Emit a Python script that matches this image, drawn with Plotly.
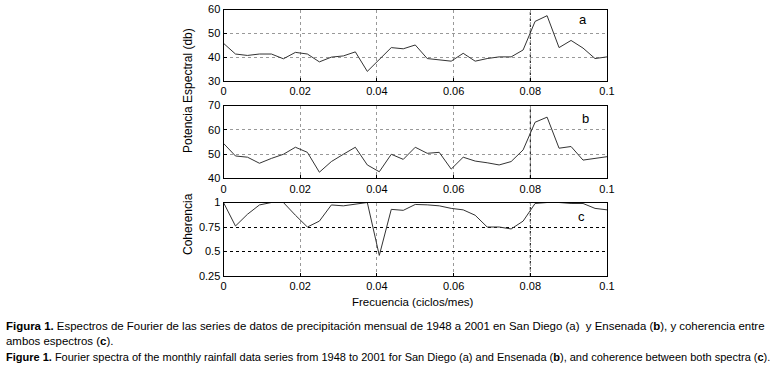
import plotly.graph_objects as go

# ---- data ----
freq_step = 0.003125
n_points = 33
frequency = [round(k * freq_step, 6) for k in range(n_points)]

power_san_diego = [45.8, 41.3, 40.7, 41.3, 41.3, 39.3, 42.0, 41.3, 38.0, 40.0, 40.5,
                   42.2, 34.0, 39.0, 44.0, 43.5, 45.1, 39.4, 39.0, 38.3, 41.6, 38.3,
                   39.4, 40.1, 40.1, 43.0, 55.0, 57.4, 44.0, 47.0, 43.8, 39.4, 40.1]

power_ensenada = [54.4, 49.2, 48.7, 46.2, 48.2, 49.9, 52.8, 50.7, 42.5, 46.9, 49.9,
                  52.8, 45.5, 42.7, 49.9, 47.8, 52.8, 50.3, 50.7, 43.8, 48.7, 47.1,
                  46.4, 45.5, 46.9, 51.7, 63.1, 65.2, 52.4, 53.1, 47.5, 48.2, 48.9]

coherence = [1.0, 0.76, 0.88, 0.975, 1.0, 1.0, 0.87, 0.75, 0.81, 0.975, 0.966,
             0.986, 1.0, 0.46, 0.93, 0.92, 0.98, 0.976, 0.966, 0.94, 0.925, 0.87,
             0.75, 0.75, 0.73, 0.81, 0.99, 1.0, 1.0, 0.99, 0.99, 0.94, 0.925]

x_ticks = [0, 0.02, 0.04, 0.06, 0.08, 0.1]
x_tick_labels = ["0", "0.02", "0.04", "0.06", "0.08", "0.1"]
ya_ticks = [30, 40, 50, 60]
ya_tick_labels = ["30", "40", "50", "60"]
yb_ticks = [40, 50, 60, 70]
yb_tick_labels = ["40", "50", "60", "70"]
yc_ticks = [0.25, 0.5, 0.75, 1]
yc_tick_labels = ["0.25", "0.5", "0.75", "1"]

W, H = 784, 378
def px(x): return x / W
def py(y): return 1 - y / H

X0, X1 = 223.5, 607.0
panels = {
    "a": (9.5, 81.0),
    "b": (105.5, 178.3),
    "c": (202.5, 276.0),
}

FONT = "Liberation Sans, Arial, sans-serif"
DASH = "3px,3px"

fig = go.Figure()
series = [(power_san_diego, "x", "y"), (power_ensenada, "x2", "y2"), (coherence, "x3", "y3")]
for vals, xa, ya in series:
    fig.add_trace(go.Scatter(x=frequency, y=vals, xaxis=xa, yaxis=ya, mode="lines",
                             line=dict(color="#333333", width=1), showlegend=False,
                             hoverinfo="skip"))

common_x = dict(range=[0, 0.1], tickvals=x_ticks, ticktext=x_tick_labels,
                showgrid=True, gridcolor="#999999", griddash=DASH, gridwidth=1,
                showline=True, linecolor="black", linewidth=1, mirror=True,
                ticks="inside", ticklen=3, tickcolor="black", automargin=False,
                ticklabeloverflow="allow",
                tickfont=dict(family=FONT, size=11, color="black"), zeroline=False,
                domain=[px(X0), px(X1)])
common_y = dict(showgrid=True, gridcolor="#999999", griddash=DASH, gridwidth=1,
                showline=True, linecolor="black", linewidth=1, mirror=True,
                ticks="inside", ticklen=3, tickcolor="black", automargin=False,
                ticklabeloverflow="allow",
                tickfont=dict(family=FONT, size=11, color="black"), zeroline=False)

fig.update_layout(
    width=W, height=H, margin=dict(l=0, r=0, t=0, b=0, pad=0, autoexpand=False),
    paper_bgcolor="white", plot_bgcolor="white",
    xaxis=dict(common_x, anchor="y"),
    xaxis2=dict(common_x, anchor="y2"),
    xaxis3=dict(common_x, anchor="y3"),
    yaxis=dict(common_y, range=[29.97, 60.0], tickvals=ya_ticks, ticktext=ya_tick_labels,
               domain=[py(panels["a"][1]), py(panels["a"][0])], anchor="x"),
    yaxis2=dict(common_y, range=[40, 70], tickvals=yb_ticks, ticktext=yb_tick_labels,
                domain=[py(panels["b"][1]), py(panels["b"][0])], anchor="x2"),
    yaxis3=dict(common_y, range=[0.25, 1], tickvals=yc_ticks, ticktext=yc_tick_labels,
                gridcolor="black",
                domain=[py(panels["c"][1]), py(panels["c"][0])], anchor="x3"),
)

# black dashed vertical line at 0.08 in each panel
for xa, ya, rng in [("x", "y", (29.97, 60)), ("x2", "y2", (40, 70)), ("x3", "y3", (0.25, 1))]:
    fig.add_shape(type="line", xref=xa, yref=ya, x0=0.08, x1=0.08, y0=rng[0], y1=rng[1],
                  line=dict(color="black", width=1, dash=DASH), layer="below")

# panel letters
letters = {"a": ("x", "y", 0.0937, 55.7), "b": ("x2", "y2", 0.0945, 64.5),
           "c": ("x3", "y3", 0.0934, 0.857)}
for letter, (xa, ya, xv, yv) in letters.items():
    fig.add_annotation(x=xv, y=yv, xref=xa, yref=ya, text=letter, showarrow=False,
                       xanchor="center", yanchor="middle",
                       font=dict(family=FONT, size=13, color="black"))

# axis titles
fig.add_annotation(x=px(188), y=py(91), xref="paper", yref="paper", text="Potencia Espectral (db)",
                   textangle=-90, showarrow=False, xanchor="center", yanchor="middle",
                   font=dict(family=FONT, size=12, color="black"))
fig.add_annotation(x=px(188), y=py(224), xref="paper", yref="paper", text="Coherencia",
                   textangle=-90, showarrow=False, xanchor="center", yanchor="middle",
                   font=dict(family=FONT, size=12, color="black"))
fig.add_annotation(x=px(413), y=py(302), xref="paper", yref="paper", text="Frecuencia (ciclos/mes)",
                   showarrow=False, xanchor="center", yanchor="middle",
                   font=dict(family=FONT, size=11.5, color="black"))

# caption
cap = [
    (326, 11.45, "<b>Figura 1.</b> Espectros de Fourier de las series de datos de precipitación mensual de 1948 a 2001 en San Diego (a)  y Ensenada (<b>b</b>), y coherencia entre"),
    (341, 11.45, "ambos espectros (<b>c</b>)."),
    (357, 11.0, "<b>Figure 1.</b> Fourier spectra of the monthly rainfall data series from 1948 to 2001 for San Diego (a) and Ensenada (<b>b</b>), and coherence between both spectra (<b>c</b>)."),
]
for yy, fs, txt in cap:
    fig.add_annotation(x=px(4), y=py(yy), xref="paper", yref="paper", text=txt,
                       xanchor="left", yanchor="middle", showarrow=False, align="left",
                       font=dict(family=FONT, size=fs, color="black"))

fig.write_html("out.html", config={"displayModeBar": False},
               post_script="document.body.style.margin='0';")
